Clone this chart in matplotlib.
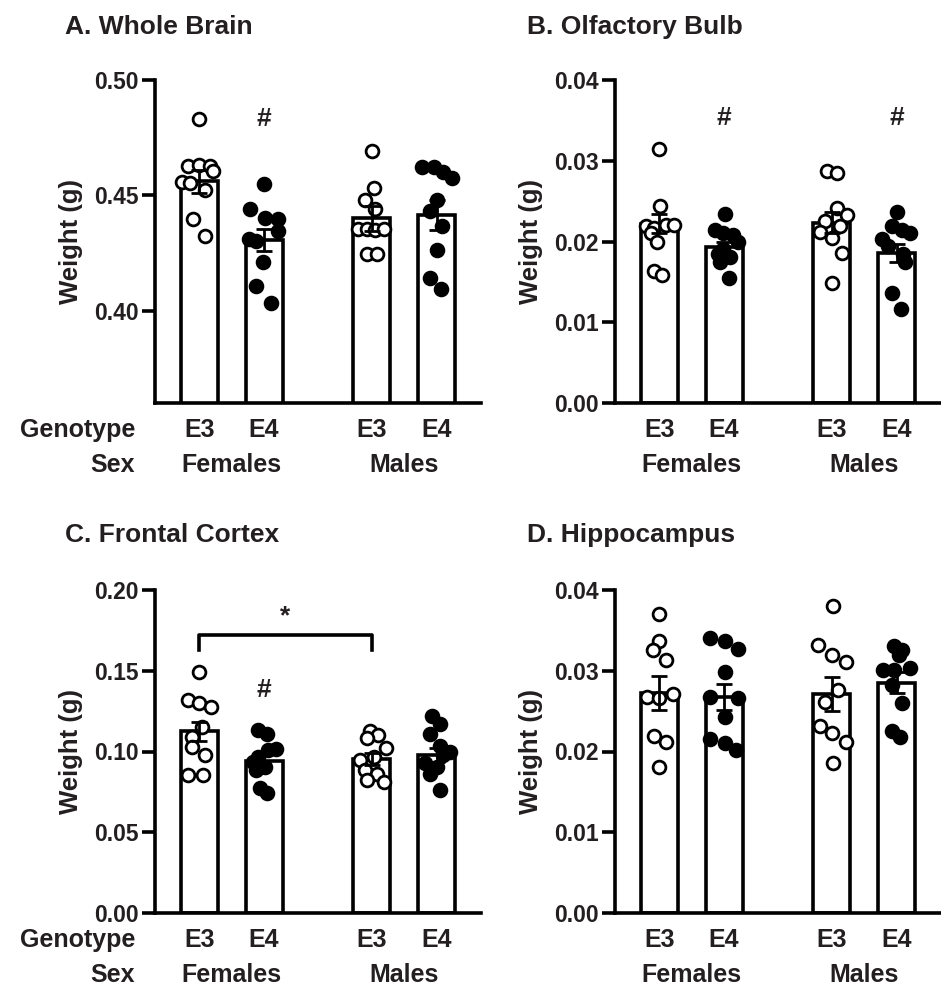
import numpy as np
import matplotlib.pyplot as plt
from matplotlib.transforms import blended_transform_factory

plt.rcParams['font.family'] = ['Liberation Sans', 'DejaVu Sans']
plt.rcParams['font.weight'] = 'bold'
INK = '#231f20'

genotype = ['E3', 'E4', 'E3', 'E4']
sex = ['Females', 'Males']
x_pos = [0, 1, 2.66, 3.66]
filled = [False, True, False, True]

# A. Whole Brain
a_vals = [[0.483, 0.4629, 0.4633, 0.4626, 0.4604, 0.4557, 0.4554, 0.4525, 0.4396, 0.4324],
          [0.4551, 0.4443, 0.4403, 0.4396, 0.4345, 0.4309, 0.4302, 0.4209, 0.4108, 0.4033],
          [0.4691, 0.4532, 0.4482, 0.4442, 0.4353, 0.4353, 0.4350, 0.4353, 0.4245, 0.4245],
          [0.4623, 0.4623, 0.4600, 0.4576, 0.4482, 0.4432, 0.4367, 0.4263, 0.4140, 0.4096]]
a_jit = [[0, -0.17, 0, 0.16, 0.22, -0.27, -0.14, 0.09, -0.09, 0.09],
         [0, -0.22, 0.01, 0.22, 0.22, -0.23, -0.12, -0.02, -0.12, 0.11],
         [0, 0.03, -0.10, 0.05, -0.21, -0.08, 0.05, 0.18, -0.08, 0.08],
         [-0.23, -0.05, 0.10, 0.23, 0, -0.10, 0.08, 0, -0.10, 0.06]]
a_mean = [0.4562, 0.4305, 0.4400, 0.4414]
a_sem = [0.0050, 0.0048, 0.0054, 0.0066]

# B. Olfactory Bulb
b_vals = [[0.0314, 0.0244, 0.0219, 0.0217, 0.0220, 0.0220, 0.0210, 0.0200, 0.0164, 0.0159],
          [0.0234, 0.0214, 0.0210, 0.0208, 0.0200, 0.0191, 0.0185, 0.0181, 0.0174, 0.0155],
          [0.0287, 0.0285, 0.0241, 0.0233, 0.0225, 0.0219, 0.0212, 0.0204, 0.0186, 0.0148],
          [0.0236, 0.0219, 0.0214, 0.0210, 0.0203, 0.0194, 0.0184, 0.0174, 0.0136, 0.0116]]
b_jit = [[0, 0.01, -0.21, -0.08, 0.10, 0.23, -0.13, -0.03, -0.08, 0.04],
         [0.02, -0.14, -0.01, 0.14, 0.22, -0.01, -0.09, 0.09, -0.06, 0.07],
         [-0.08, 0.08, 0.08, 0.23, -0.10, 0.13, -0.18, 0, 0.15, 0],
         [0, -0.08, 0.08, 0.21, -0.23, -0.13, 0.10, 0.13, -0.08, 0.06]]
b_mean = [0.0222, 0.0193, 0.0223, 0.0186]
b_sem = [0.0012, 0.0007, 0.0013, 0.0011]

# C. Frontal Cortex
c_vals = [[0.1492, 0.1319, 0.1300, 0.1276, 0.1152, 0.1090, 0.1028, 0.0978, 0.0854, 0.0854],
          [0.1134, 0.1109, 0.1014, 0.1010, 0.0969, 0.0932, 0.0907, 0.0887, 0.0773, 0.0742],
          [0.1124, 0.1103, 0.1082, 0.1021, 0.0969, 0.0949, 0.0887, 0.0862, 0.0825, 0.0814],
          [0.1221, 0.1171, 0.1109, 0.1035, 0.1000, 0.0979, 0.0928, 0.0907, 0.0862, 0.0763]]
c_jit = [[0, -0.17, 0, 0.19, 0.04, -0.11, -0.11, 0.09, -0.17, 0.06],
         [-0.09, 0.04, 0.19, 0.06, -0.09, -0.17, 0.01, -0.12, -0.07, 0.04],
         [-0.03, 0.10, -0.08, 0.21, 0.03, -0.18, -0.10, 0.08, -0.08, 0.18],
         [-0.08, 0.05, -0.10, 0.05, 0.21, 0.10, -0.18, 0, -0.10, 0.05]]
c_mean = [0.1124, 0.0942, 0.0953, 0.0979]
c_sem = [0.0060, 0.0040, 0.0035, 0.0045]

# D. Hippocampus
d_vals = [[0.0370, 0.0337, 0.0326, 0.0313, 0.0271, 0.0267, 0.0266, 0.0219, 0.0212, 0.0181],
          [0.0341, 0.0337, 0.0327, 0.0298, 0.0267, 0.0266, 0.0243, 0.0216, 0.0211, 0.0202],
          [0.0380, 0.0332, 0.0320, 0.0311, 0.0276, 0.0261, 0.0232, 0.0223, 0.0212, 0.0186],
          [0.0331, 0.0326, 0.0320, 0.0303, 0.0301, 0.0301, 0.0282, 0.0260, 0.0226, 0.0218]]
d_jit = [[0, 0, -0.10, 0.10, 0.21, -0.18, 0, -0.08, 0.10, 0],
         [-0.22, 0.02, 0.21, 0.02, -0.22, 0.22, 0.02, -0.22, 0.02, 0.19],
         [0.02, -0.21, 0, 0.21, 0.10, -0.10, -0.18, 0, 0.21, 0.02],
         [-0.05, 0.08, 0.03, 0.21, -0.21, -0.05, -0.08, 0.08, -0.08, 0.05]]
d_mean = [0.0273, 0.0267, 0.0271, 0.0285]
d_sem = [0.0021, 0.0016, 0.0021, 0.0013]

LW = 2.6
FS = 18


def panel(ax, vals, jit, means, sems, ylim, yticks, left_labels):
    ax.bar(x_pos, means, width=0.57, color='white', edgecolor='black', linewidth=LW, zorder=1)
    for i in range(4):
        xs = x_pos[i] + np.array(jit[i])
        ax.plot(xs, vals[i], 'o', ms=9.2, mew=2.0, mec='black',
                mfc='black' if filled[i] else 'white', zorder=3, clip_on=False)
    ax.errorbar(x_pos, means, yerr=sems, fmt='none', ecolor='black', elinewidth=2,
                capsize=5.5, capthick=2, zorder=4)
    ax.set_xlim(-0.68, 4.34)
    ax.set_ylim(*ylim)
    ax.set_yticks(yticks)
    ax.yaxis.set_major_formatter(plt.FormatStrFormatter('%.2f'))
    ax.set_xticks([])
    for s in ['top', 'right']:
        ax.spines[s].set_visible(False)
    for s in ['left', 'bottom']:
        ax.spines[s].set_linewidth(LW)
    ax.tick_params(axis='y', length=9.5, width=LW, labelsize=16.5, labelcolor=INK, pad=2)
    ax.set_ylabel('Weight (g)', fontsize=18.5, fontweight='bold', color=INK)
    ax.yaxis.set_label_coords(-0.22, 0.5)
    tr = blended_transform_factory(ax.transData, ax.transAxes)
    for x, g in zip(x_pos, genotype):
        ax.text(x, -0.084, g, transform=tr, ha='center', va='center', fontsize=FS, color=INK)
    for k, s in enumerate(sex):
        ax.text((x_pos[2 * k] + x_pos[2 * k + 1]) / 2, -0.192, s, transform=tr,
                ha='center', va='center', fontsize=FS, color=INK)
    if left_labels:
        ax.text(-0.061, -0.084, 'Genotype', transform=ax.transAxes, ha='right', va='center',
                fontsize=FS, color=INK)
        ax.text(-0.061, -0.192, 'Sex', transform=ax.transAxes, ha='right', va='center',
                fontsize=FS, color=INK)


fig = plt.figure(figsize=(9.41, 9.9), dpi=100)
W, H = 941, 990
axA = fig.add_axes([155 / W, 1 - 403 / H, 326 / W, 323 / H])
axB = fig.add_axes([615 / W, 1 - 403 / H, 326 / W, 323 / H])
axC = fig.add_axes([155 / W, 1 - 913 / H, 326 / W, 323 / H])
axD = fig.add_axes([615 / W, 1 - 913 / H, 326 / W, 323 / H])

panel(axA, a_vals, a_jit, a_mean, a_sem, (0.36, 0.50), [0.40, 0.45, 0.50], True)
panel(axB, b_vals, b_jit, b_mean, b_sem, (0, 0.04), [0, 0.01, 0.02, 0.03, 0.04], False)
panel(axC, c_vals, c_jit, c_mean, c_sem, (0, 0.20), [0, 0.05, 0.10, 0.15, 0.20], True)
panel(axD, d_vals, d_jit, d_mean, d_sem, (0, 0.04), [0, 0.01, 0.02, 0.03, 0.04], False)

# significance marks
axA.text(x_pos[1], 0.4831, '#', ha='center', va='center', fontsize=19, color=INK)
axB.text(x_pos[1], 0.0353, '#', ha='center', va='center', fontsize=19, color=INK)
axB.text(x_pos[3], 0.0353, '#', ha='center', va='center', fontsize=19, color=INK)
axC.text(x_pos[1], 0.1381, '#', ha='center', va='center', fontsize=19, color=INK)
axC.plot([x_pos[0], x_pos[0], x_pos[2], x_pos[2]], [0.1629, 0.1722, 0.1722, 0.1629],
         color='black', lw=LW, solid_joinstyle='round')
axC.text((x_pos[0] + x_pos[2]) / 2, 0.184, '*', ha='center', va='center', fontsize=19, color=INK)

fig.text(65 / W, 1 - 27 / H, 'A. Whole Brain', fontsize=19, va='center', color=INK)
fig.text(527 / W, 1 - 27 / H, 'B. Olfactory Bulb', fontsize=19, va='center', color=INK)
fig.text(65 / W, 1 - 535 / H, 'C. Frontal Cortex', fontsize=19, va='center', color=INK)
fig.text(527 / W, 1 - 535 / H, 'D. Hippocampus', fontsize=19, va='center', color=INK)

fig.savefig('out.png', dpi=100)
